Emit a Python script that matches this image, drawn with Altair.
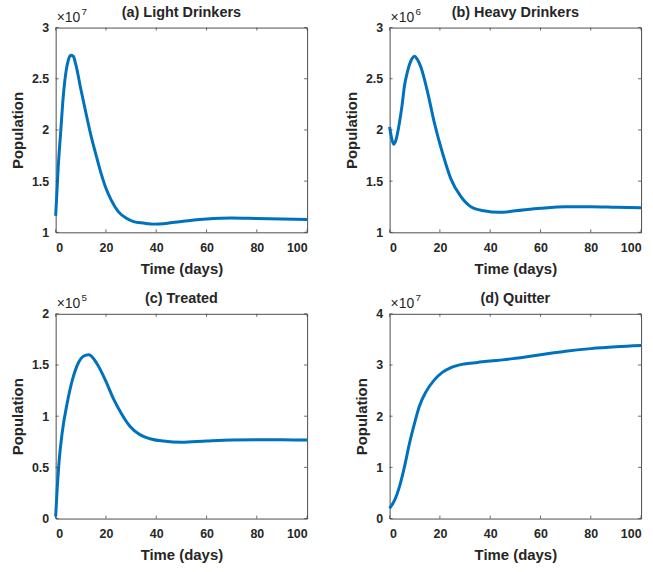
import altair as alt
import pandas as pd

FONT = "Liberation Sans, Arial, sans-serif"
TXT = "#262626"
BLUE = "#0072BD"

x_ticks = [0, 20, 40, 60, 80, 100]

# (a) Light drinkers  (x 10^7)
light_days = [0, 1, 2, 3, 4, 5, 6, 7, 8, 10, 12, 14, 16, 18, 20, 22, 25, 28, 31, 35, 39, 45, 50, 55, 60, 70, 80, 90, 100]
light_vals = [1.16, 1.63, 1.98, 2.32, 2.55, 2.68, 2.73, 2.72, 2.64, 2.40, 2.17, 1.95, 1.76, 1.58, 1.43, 1.32, 1.20, 1.14, 1.105, 1.09, 1.08, 1.09, 1.105, 1.12, 1.13, 1.14, 1.135, 1.13, 1.125]

# (b) Heavy drinkers  (x 10^6)
heavy_days = [0, 0.8, 1.6, 2.5, 3.9, 5, 5.9, 7, 7.9, 9, 9.9, 11, 12.5, 14, 15.1, 17.8, 21.1, 24.4, 28.3, 32.3, 37.5, 43.5, 50, 60, 70, 80, 90, 100]
heavy_vals = [2.03, 1.92, 1.86, 1.90, 2.07, 2.25, 2.43, 2.56, 2.64, 2.70, 2.72, 2.69, 2.61, 2.48, 2.37, 2.07, 1.77, 1.52, 1.35, 1.25, 1.21, 1.195, 1.21, 1.235, 1.25, 1.25, 1.245, 1.24]

# (c) Treated  (x 10^5)
treated_days = [0, 0.65, 1.3, 2.6, 4.6, 6.6, 9.2, 11, 13.2, 16.5, 19.8, 23, 26.3, 29.6, 33.5, 37.5, 42.8, 50, 60, 70, 80, 90, 100]
treated_vals = [0.02, 0.31, 0.54, 0.84, 1.13, 1.35, 1.53, 1.585, 1.60, 1.51, 1.35, 1.17, 1.02, 0.90, 0.82, 0.78, 0.757, 0.745, 0.758, 0.768, 0.77, 0.769, 0.768]

# (d) Quitter  (x 10^7)
quit_days = [0, 2, 3.9, 5.9, 7.9, 9.9, 11.8, 14.5, 17.8, 21.1, 24.4, 29.6, 35, 40, 45, 50, 60, 70, 80, 90, 100]
quit_vals = [0.20, 0.36, 0.62, 1.01, 1.47, 1.86, 2.19, 2.48, 2.71, 2.86, 2.95, 3.02, 3.05, 3.08, 3.10, 3.13, 3.20, 3.27, 3.32, 3.355, 3.38]

W, H = 253, 206
TL = 3


def panel(title, days, vals, exponent, ydom, yticks):
    df = pd.DataFrame({"t": days, "v": vals})
    xs = alt.Scale(domain=[0, 100], nice=False)
    ys = alt.Scale(domain=ydom, nice=False, zero=False)
    xenc = alt.X("t:Q", scale=xs, title="Time (days)", axis=alt.Axis(values=x_ticks))
    yenc = alt.Y("v:Q", scale=ys, title="Population",
                 axis=alt.Axis(values=yticks, labelExpr="format(datum.value, '~g')"))
    line = alt.Chart(df).mark_line(color=BLUE, strokeWidth=3, interpolate="monotone").encode(x=xenc, y=yenc)
    xt = pd.DataFrame({"t": x_ticks})
    yt = pd.DataFrame({"v": yticks})
    tick_style = dict(color="#444444", strokeWidth=0.8)
    xb = alt.Chart(xt).mark_rule(**tick_style).encode(x=xenc, y=alt.value(H), y2=alt.value(H - TL))
    xtp = alt.Chart(xt).mark_rule(**tick_style).encode(x=xenc, y=alt.value(0), y2=alt.value(TL))
    yl = alt.Chart(yt).mark_rule(**tick_style).encode(y=yenc, x=alt.value(0), x2=alt.value(TL))
    yr = alt.Chart(yt).mark_rule(**tick_style).encode(y=yenc, x=alt.value(W), x2=alt.value(W - TL))
    base = alt.Chart(pd.DataFrame({"s": ["×10"]})).mark_text(
        align="left", baseline="alphabetic", font=FONT, fontSize=14, color=TXT
    ).encode(text="s:N", x=alt.value(1), y=alt.value(-6))
    sup = alt.Chart(pd.DataFrame({"s": [exponent]})).mark_text(
        align="left", baseline="alphabetic", font=FONT, fontSize=10, color=TXT
    ).encode(text="s:N", x=alt.value(26), y=alt.value(-13))
    return alt.layer(line, xb, xtp, yl, yr, base, sup).properties(
        width=W, height=H,
        title=alt.TitleParams(title, font=FONT, fontSize=14.5, fontWeight="bold", color=TXT, offset=-14),
    )


a = panel("(a) Light Drinkers", light_days, light_vals, "7", [1, 3], [1, 1.5, 2, 2.5, 3])
b = panel("(b) Heavy Drinkers", heavy_days, heavy_vals, "6", [1, 3], [1, 1.5, 2, 2.5, 3])
c = panel("(c) Treated", treated_days, treated_vals, "5", [0, 2], [0, 0.5, 1, 1.5, 2])
d = panel("(d) Quitter", quit_days, quit_vals, "7", [0, 4], [0, 1, 2, 3, 4])

chart = alt.concat(a, b, c, d, columns=2, spacing={"row": 14, "column": 30}).properties(
    padding={"left": 10, "top": 3, "right": 5, "bottom": 3}
).configure_view(
    stroke="#4d4d4d", strokeWidth=1
).configure_axis(
    grid=False, domain=False, ticks=False, tickSize=0,
    labelFont=FONT, labelFontSize=12.5, labelFontWeight="bold", labelColor=TXT, labelPadding=7,
    titleFont=FONT, titleFontSize=15, titleFontWeight="bold", titleColor=TXT, titlePadding=6,
).configure_axisX(labelPadding=9, titlePadding=8)

chart.save("out.html", embed_options={"renderer": "svg", "actions": False})
